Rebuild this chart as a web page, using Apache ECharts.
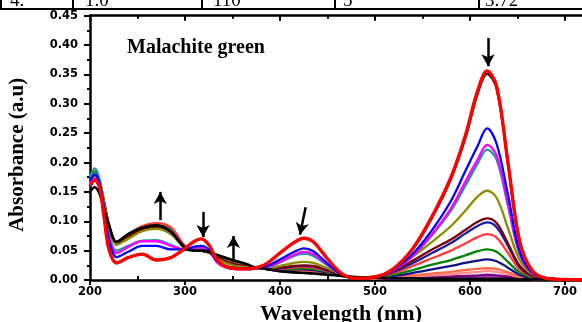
<!DOCTYPE html>
<html>
<head>
<meta charset="utf-8">
<script src="https://cdn.jsdelivr.net/npm/echarts@6/dist/echarts.min.js"></script>
<style>
  html, body { margin: 0; padding: 0; background: #fff; }
  #chart { width: 582px; height: 322px; }
</style>
</head>
<body>
<div id="chart"></div>
<script>
// wavelengths (nm) shared by all spectra
const wl = [200, 205, 210, 215, 220, 228, 240, 255, 270, 285, 300, 310, 317, 325, 335, 350, 365, 372, 385, 400,
  415, 425, 435, 450, 465, 480, 500, 520, 540, 560, 580, 595, 608, 618, 628, 640, 652, 665, 680, 700, 760];

// absorbance spectra, from last (black) to first (red)
const absBlack = [0.150, 0.158, 0.147, 0.120, 0.093, 0.065, 0.078, 0.089, 0.093, 0.082, 0.054, 0.050, 0.050, 0.048, 0.042, 0.034, 0.027, 0.022, 0.019, 0.015,
  0.013, 0.012, 0.011, 0.009, 0.007, 0.005, 0.004, 0.003, 0.003, 0.002, 0.002, 0.002, 0.002, 0.002, 0.002, 0.002, 0.001, 0.001, 0.001, 0.001, 0];
const absViolet = [0.158, 0.170, 0.158, 0.127, 0.093, 0.064, 0.076, 0.090, 0.094, 0.087, 0.057, 0.051, 0.050, 0.047, 0.040, 0.031, 0.027, 0.022, 0.019, 0.015,
  0.014, 0.014, 0.013, 0.011, 0.007, 0.004, 0.003, 0.003, 0.004, 0.004, 0.005, 0.005, 0.006, 0.006, 0.006, 0.004, 0.002, 0.001, 0.001, 0.001, 0];
const absPurple = [0.160, 0.172, 0.160, 0.128, 0.093, 0.064, 0.076, 0.090, 0.095, 0.088, 0.057, 0.051, 0.050, 0.047, 0.040, 0.030, 0.026, 0.022, 0.019, 0.015,
  0.015, 0.015, 0.014, 0.011, 0.007, 0.004, 0.003, 0.003, 0.004, 0.005, 0.006, 0.007, 0.008, 0.009, 0.008, 0.006, 0.003, 0.001, 0.001, 0.001, 0];
const absPink = [0.163, 0.176, 0.163, 0.130, 0.094, 0.064, 0.076, 0.090, 0.094, 0.087, 0.057, 0.051, 0.050, 0.047, 0.039, 0.030, 0.026, 0.022, 0.019, 0.016,
  0.015, 0.015, 0.014, 0.011, 0.007, 0.004, 0.003, 0.004, 0.006, 0.008, 0.010, 0.012, 0.014, 0.015, 0.014, 0.010, 0.005, 0.002, 0.001, 0.001, 0];
const absSalmon = [0.162, 0.175, 0.163, 0.130, 0.094, 0.064, 0.076, 0.090, 0.094, 0.087, 0.057, 0.051, 0.050, 0.047, 0.039, 0.030, 0.026, 0.022, 0.019, 0.016,
  0.016, 0.016, 0.015, 0.012, 0.007, 0.004, 0.003, 0.005, 0.008, 0.011, 0.014, 0.017, 0.019, 0.020, 0.019, 0.013, 0.006, 0.002, 0.001, 0.001, 0];
const absDarkBlue = [0.158, 0.170, 0.158, 0.126, 0.092, 0.063, 0.075, 0.088, 0.092, 0.085, 0.057, 0.051, 0.050, 0.047, 0.039, 0.029, 0.026, 0.022, 0.019, 0.017,
  0.018, 0.018, 0.017, 0.013, 0.008, 0.004, 0.004, 0.007, 0.012, 0.018, 0.024, 0.029, 0.033, 0.035, 0.032, 0.021, 0.009, 0.003, 0.001, 0.001, 0];
const absGreen = [0.168, 0.185, 0.170, 0.133, 0.094, 0.063, 0.075, 0.088, 0.092, 0.085, 0.057, 0.051, 0.050, 0.047, 0.038, 0.029, 0.026, 0.022, 0.019, 0.018,
  0.019, 0.020, 0.019, 0.014, 0.008, 0.004, 0.004, 0.009, 0.017, 0.026, 0.034, 0.042, 0.049, 0.052, 0.048, 0.031, 0.013, 0.004, 0.001, 0.001, 0];
const absLightRed = [0.165, 0.178, 0.165, 0.132, 0.095, 0.065, 0.077, 0.092, 0.097, 0.090, 0.058, 0.052, 0.051, 0.047, 0.038, 0.028, 0.025, 0.021, 0.019, 0.019,
  0.021, 0.022, 0.021, 0.015, 0.008, 0.004, 0.005, 0.012, 0.024, 0.037, 0.050, 0.062, 0.073, 0.078, 0.072, 0.046, 0.018, 0.006, 0.002, 0.001, 0];
const absNavy = [0.160, 0.172, 0.160, 0.128, 0.092, 0.062, 0.073, 0.087, 0.090, 0.082, 0.056, 0.051, 0.050, 0.047, 0.037, 0.027, 0.024, 0.021, 0.019, 0.020,
  0.023, 0.024, 0.023, 0.016, 0.008, 0.004, 0.005, 0.014, 0.029, 0.046, 0.063, 0.079, 0.092, 0.098, 0.090, 0.058, 0.023, 0.007, 0.002, 0.001, 0];
const absMaroon = [0.162, 0.176, 0.162, 0.130, 0.093, 0.062, 0.073, 0.087, 0.090, 0.082, 0.056, 0.051, 0.050, 0.047, 0.037, 0.027, 0.024, 0.021, 0.019, 0.021,
  0.024, 0.025, 0.024, 0.017, 0.008, 0.004, 0.006, 0.016, 0.033, 0.052, 0.069, 0.085, 0.099, 0.105, 0.097, 0.062, 0.025, 0.008, 0.002, 0.001, 0];
const absOlive = [0.163, 0.175, 0.162, 0.128, 0.090, 0.060, 0.070, 0.083, 0.087, 0.078, 0.055, 0.051, 0.051, 0.047, 0.035, 0.025, 0.022, 0.020, 0.019, 0.024,
  0.029, 0.031, 0.029, 0.020, 0.009, 0.004, 0.006, 0.018, 0.040, 0.065, 0.092, 0.118, 0.142, 0.152, 0.140, 0.088, 0.035, 0.010, 0.003, 0.001, 0];
const absTeal = [0.175, 0.190, 0.172, 0.125, 0.075, 0.050, 0.058, 0.067, 0.068, 0.060, 0.052, 0.053, 0.053, 0.049, 0.030, 0.021, 0.020, 0.020, 0.021, 0.030,
  0.041, 0.045, 0.041, 0.025, 0.009, 0.003, 0.005, 0.017, 0.041, 0.076, 0.118, 0.160, 0.198, 0.222, 0.205, 0.126, 0.045, 0.012, 0.003, 0.001, 0];
const absMagenta = [0.166, 0.178, 0.163, 0.120, 0.072, 0.046, 0.056, 0.066, 0.066, 0.058, 0.052, 0.055, 0.055, 0.050, 0.028, 0.019, 0.018, 0.019, 0.021, 0.031,
  0.043, 0.048, 0.044, 0.026, 0.009, 0.003, 0.005, 0.017, 0.042, 0.078, 0.122, 0.167, 0.205, 0.230, 0.212, 0.130, 0.046, 0.012, 0.003, 0.001, 0];
const absBlue = [0.168, 0.180, 0.165, 0.120, 0.068, 0.039, 0.048, 0.058, 0.058, 0.052, 0.052, 0.057, 0.058, 0.052, 0.030, 0.021, 0.020, 0.020, 0.023, 0.035,
  0.048, 0.054, 0.049, 0.028, 0.009, 0.003, 0.005, 0.018, 0.045, 0.085, 0.135, 0.185, 0.228, 0.258, 0.232, 0.145, 0.050, 0.013, 0.003, 0.001, 0];
const absDark = [0.160, 0.170, 0.158, 0.105, 0.052, 0.029, 0.038, 0.044, 0.034, 0.038, 0.054, 0.066, 0.070, 0.060, 0.032, 0.020, 0.019, 0.020, 0.027, 0.046,
  0.064, 0.071, 0.065, 0.036, 0.011, 0.003, 0.005, 0.020, 0.053, 0.106, 0.172, 0.241, 0.317, 0.351, 0.326, 0.197, 0.066, 0.017, 0.003, 0.001, 0];
const absRed = [0.160, 0.170, 0.158, 0.105, 0.052, 0.029, 0.038, 0.044, 0.034, 0.038, 0.054, 0.066, 0.070, 0.060, 0.032, 0.020, 0.019, 0.020, 0.027, 0.046,
  0.064, 0.071, 0.065, 0.036, 0.011, 0.003, 0.005, 0.020, 0.054, 0.108, 0.175, 0.245, 0.322, 0.356, 0.330, 0.200, 0.068, 0.017, 0.003, 0.001, 0];

const spectra = [
  { data: absViolet, color: "#9b30c8" },
  { data: absPurple, color: "#800080" },
  { data: absPink, color: "#ff8c8c" },
  { data: absSalmon, color: "#ff6a4d" },
  { data: absDarkBlue, color: "#10108a" },
  { data: absGreen, color: "#008000" },
  { data: absLightRed, color: "#ff3b3b" },
  { data: absNavy, color: "#1c1ca0" },
  { data: absMaroon, color: "#7a0000" },
  { data: absOlive, color: "#8c8c00" },
  { data: absTeal, color: "#1f9a9a" },
  { data: absMagenta, color: "#ff00ff" },
  { data: absBlue, color: "#0000ff" },
  { data: absBlack, color: "#000000", width: 2.6 },
  { data: absDark, color: "#200000" },
  { data: absRed, color: "#ff0000", width: 3.4 },
];

// arrows [x1, y1, x2, y2], head at the second point
const arrows = [
  [274, 0.102, 274, 0.150],
  [319, 0.116, 319, 0.073],
  [351, 0.031, 351, 0.075],
  [427, 0.124, 421, 0.077],
  [619, 0.412, 619, 0.364],
];

// table row cut at the top of the picture
const tableCells = ["4.", "1.0", "110", "5", "3.72"];
const tableCellX = [10, 85, 213, 343, 485];
const tableLineX = [1, 73, 202, 335, 479];

const chart = echarts.init(document.getElementById("chart"));

const boldLabel = { color: "#000", fontFamily: "DejaVu Sans", fontWeight: "bold", fontSize: 11.5 };
const serifBold = { color: "#000", fontFamily: "Liberation Serif", fontWeight: "bold", fontSize: 20 };
const blackLine = { lineStyle: { color: "#000", width: 2.5 } };

const series = spectra.map((s) => ({
  type: "line",
  data: wl.map((w, i) => [w, s.data[i]]),
  smooth: 0.35,
  showSymbol: false,
  silent: true,
  lineStyle: { color: s.color, width: s.width || 2.3 },
}));

series.push({
  type: "line",
  data: [],
  silent: true,
  markLine: {
    silent: true,
    animation: false,
    symbol: ["none", "arrow"],
    symbolSize: [10, 12],
    label: { show: false },
    lineStyle: { color: "#000", width: 2.5, type: "solid" },
    data: arrows.map((a) => [{ coord: [a[0], a[1]] }, { coord: [a[2], a[3]] }]),
  },
});

const graphic = [
  { type: "line", shape: { x1: 0, y1: 9, x2: 582, y2: 9 }, style: { stroke: "#000", lineWidth: 2 } },
];
tableLineX.forEach((x) => {
  graphic.push({ type: "line", shape: { x1: x, y1: 0, x2: x, y2: 9 }, style: { stroke: "#000", lineWidth: 2 } });
});
tableCells.forEach((t, i) => {
  graphic.push({
    type: "text",
    x: tableCellX[i],
    y: 11,
    style: { text: t, fill: "#000", font: "19px 'Liberation Serif'", verticalAlign: "bottom" },
  });
});

const option = {
  animation: false,
  backgroundColor: "#fff",
  title: {
    text: "Malachite green",
    left: 122,
    top: 33,
    textStyle: Object.assign({}, serifBold, { fontSize: 20 }),
  },
  grid: { left: 90, right: -40, top: 15.7, bottom: 42, containLabel: false, outerBoundsMode: "none" },
  xAxis: [
    {
      type: "value",
      min: 200,
      max: 760,
      interval: 100,
      position: "bottom",
      axisLine: blackLine,
      axisTick: { length: 5, lineStyle: { color: "#000", width: 2 } },
      axisLabel: Object.assign({ margin: 6, showMaxLabel: false }, boldLabel, { fontSize: 11.5 }),
      splitLine: { show: false },
      name: "Wavelength (nm)",
      nameLocation: "middle",
      nameGap: 22,
      nameTextStyle: Object.assign({}, serifBold, { fontSize: 22, padding: [0, 30, 0, 0] }),
    },
    {
      type: "value",
      min: 200,
      max: 760,
      interval: 100,
      position: "bottom",
      axisLine: { show: false },
      axisTick: { show: false, inside: true },
      minorTick: { show: true, splitNumber: 2, length: 4, lineStyle: { color: "#000", width: 2 } },
      axisLabel: { show: false },
      splitLine: { show: false },
    },
    {
      type: "value",
      min: 200,
      max: 760,
      interval: 100,
      position: "top",
      axisLine: blackLine,
      axisTick: { inside: true, length: 5, lineStyle: { color: "#000", width: 2 } },
      minorTick: { show: true, splitNumber: 2, length: 3, lineStyle: { color: "#000", width: 2 } },
      axisLabel: { show: false },
      splitLine: { show: false },
    },
  ],
  yAxis: {
    type: "value",
    min: 0,
    max: 0.45,
    interval: 0.05,
    axisLine: { show: true, lineStyle: { color: "#000", width: 2.5 } },
    axisTick: { length: 6, lineStyle: { color: "#000", width: 2 } },
    minorTick: { show: true, splitNumber: 2, length: 3, lineStyle: { color: "#000", width: 2 } },
    axisLabel: Object.assign({ margin: 12, formatter: (v) => v.toFixed(2) }, boldLabel),
    splitLine: { show: false },
    name: "Absorbance (a.u)",
    nameLocation: "middle",
    nameGap: 62,
    nameRotate: 90,
    nameTextStyle: Object.assign({}, serifBold, { fontSize: 21, padding: [0, 14, 0, 0] }),
  },
  graphic: graphic,
  series: series,
};

chart.setOption(option);
</script>
</body>
</html>
